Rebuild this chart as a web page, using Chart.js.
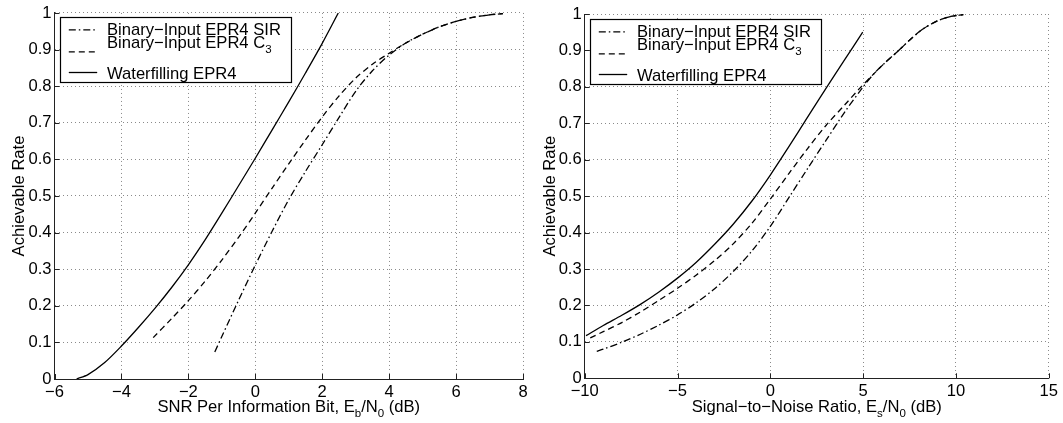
<!DOCTYPE html>
<html><head><meta charset="utf-8">
<script src="https://cdn.jsdelivr.net/npm/chart.js@4"></script>
<style>
html,body{margin:0;padding:0;background:#fff;}
#wrap{position:relative;width:1063px;height:423px;overflow:hidden;background:#fff;}
canvas{position:absolute;top:0;}
</style></head><body>
<div id="wrap">
<canvas id="c1" width="531" height="423" style="left:0px"></canvas>
<canvas id="c2" width="532" height="423" style="left:531px"></canvas>
</div>
<script>
// ---------- data ----------
const seriesLabels = ['Binary\u2212Input EPR4 SIR', 'Binary\u2212Input EPR4 C_3', 'Waterfilling EPR4'];

const yTicks = [0, 0.1, 0.2, 0.3, 0.4, 0.5, 0.6, 0.7, 0.8, 0.9, 1];
const yTickLabels = ['0', '0.1', '0.2', '0.3', '0.4', '0.5', '0.6', '0.7', '0.8', '0.9', '1'];

const leftXTicks = [-6, -4, -2, 0, 2, 4, 6, 8];
const leftXTickLabels = ['\u22126', '\u22124', '\u22122', '0', '2', '4', '6', '8'];
const rightXTicks = [-10, -5, 0, 5, 10, 15];
const rightXTickLabels = ['\u221210', '\u22125', '0', '5', '10', '15'];

const leftXTitle = 'SNR Per Information Bit, E_b/N_0 (dB)';
const rightXTitle = 'Signal\u2212to\u2212Noise Ratio, E_s/N_0 (dB)';
const yTitle = 'Achievable Rate';

// Left panel (Eb/N0)
const leftSirX = [-1.21, -1, -0.5, 0, 0.5, 1, 1.5, 2, 2.5, 3, 3.5, 4, 4.5, 5, 5.5, 6, 6.5, 7, 7.4];
const leftSirY = [0.074, 0.116, 0.215, 0.311, 0.403, 0.49, 0.567, 0.64, 0.714, 0.786, 0.842, 0.885, 0.918, 0.942, 0.962, 0.977, 0.988, 0.995, 0.998];
const leftC3X = [-3.05, -2.5, -2, -1.5, -1, -0.5, 0, 0.5, 1, 1.5, 2, 2.5, 3, 3.5, 4, 4.5, 5, 5.5, 6, 6.5, 7, 7.4];
const leftC3Y = [0.113, 0.165, 0.214, 0.267, 0.325, 0.387, 0.453, 0.521, 0.588, 0.653, 0.716, 0.773, 0.822, 0.86, 0.89, 0.918, 0.942, 0.962, 0.977, 0.988, 0.995, 0.998];
const leftWfX = [-5.34, -5, -4.5, -4, -3.5, -3, -2.5, -2, -1.5, -1, -0.5, 0, 0.5, 1, 1.5, 2, 2.48];
const leftWfY = [0, 0.012, 0.045, 0.09, 0.14, 0.193, 0.25, 0.312, 0.38, 0.453, 0.528, 0.603, 0.68, 0.757, 0.836, 0.917, 1.0];

// Right panel (Es/N0)
const rightSirX = [-9.35, -9, -8, -7, -6, -5, -4, -3, -2, -1, 0, 1, 2, 3, 4, 5, 5.6, 6.2, 6.86, 7.5, 8.2, 9, 9.7, 10.4];
const rightSirY = [0.074, 0.08, 0.099, 0.121, 0.146, 0.174, 0.207, 0.246, 0.293, 0.349, 0.417, 0.496, 0.575, 0.653, 0.73, 0.8, 0.837, 0.867, 0.897, 0.928, 0.958, 0.981, 0.993, 0.998];
const rightC3X = [-9.7, -9, -8, -7, -6, -5, -4, -3, -2, -1, 0, 1, 2, 3, 4, 4.8, 5.6, 6.2, 6.86, 7.5, 8.2, 9, 9.7, 10.4];
const rightC3Y = [0.111, 0.128, 0.153, 0.182, 0.214, 0.247, 0.283, 0.323, 0.369, 0.425, 0.492, 0.562, 0.63, 0.694, 0.75, 0.795, 0.837, 0.867, 0.897, 0.928, 0.958, 0.981, 0.993, 0.998];
const rightWfX = [-9.93, -9, -8, -7, -6, -5, -4, -3, -2, -1, 0, 1, 2, 3, 4, 4.98];
const rightWfY = [0.117, 0.145, 0.173, 0.203, 0.237, 0.275, 0.318, 0.368, 0.423, 0.486, 0.558, 0.636, 0.716, 0.796, 0.874, 0.95];

// ---------- helpers ----------
const FONT = "'Liberation Sans', Arial, Helvetica, sans-serif";
const FS = 16.6, SUBFS = 11.5, SUBDROP = 5;
const styles = [
  { dash: [7, 3, 1.5, 3] },
  { dash: [6, 4] },
  { dash: [] }
];

function pts(xs, ys) { return xs.map((x, i) => ({ x: x, y: ys[i] })); }

function parseRich(str) {
  const out = []; let buf = ''; let i = 0;
  while (i < str.length) {
    if (str[i] === '_') {
      if (buf) { out.push({ t: buf, sub: false }); buf = ''; }
      out.push({ t: str[i + 1], sub: true }); i += 2;
    } else { buf += str[i]; i++; }
  }
  if (buf) out.push({ t: buf, sub: false });
  return out;
}
function richWidth(ctx, parts) {
  let w = 0;
  for (const p of parts) { ctx.font = (p.sub ? SUBFS : FS) + 'px ' + FONT; w += ctx.measureText(p.t).width; }
  return w;
}
function drawRich(ctx, str, x, y, align) {
  const parts = parseRich(str);
  let cx = x;
  if (align === 'center') cx = x - richWidth(ctx, parts) / 2;
  ctx.textBaseline = 'alphabetic'; ctx.textAlign = 'left';
  for (const p of parts) {
    ctx.font = (p.sub ? SUBFS : FS) + 'px ' + FONT;
    ctx.fillText(p.t, cx, p.sub ? y + SUBDROP : y);
    cx += ctx.measureText(p.t).width;
  }
}

const decor = {
  id: 'decor',
  afterDraw(chart, args, opts) {
    const ctx = chart.ctx, ca = chart.chartArea;
    const xs = chart.scales.x, ys = chart.scales.y;
    ctx.save();
    ctx.strokeStyle = '#222'; ctx.lineWidth = 1; ctx.setLineDash([]);
    ctx.beginPath();
    for (const t of xs.ticks) {
      const px = Math.round(xs.getPixelForValue(t.value)) + 0.5;
      ctx.moveTo(px, ca.bottom); ctx.lineTo(px, ca.bottom - 5);
    }
    for (const t of ys.ticks) {
      const py = Math.round(ys.getPixelForValue(t.value)) + 0.5;
      ctx.moveTo(ca.left, py); ctx.lineTo(ca.left + 5, py);
    }
    ctx.stroke();
    ctx.fillStyle = '#000';
    drawRich(ctx, opts.xTitle, (ca.left + ca.right) / 2, opts.xTitleY, 'center');
    ctx.save();
    ctx.translate(opts.yTitleX, (ca.top + ca.bottom) / 2);
    ctx.rotate(-Math.PI / 2);
    ctx.font = FS + 'px ' + FONT; ctx.textAlign = 'center'; ctx.textBaseline = 'middle';
    ctx.fillText(yTitle, 0, 0);
    ctx.restore();
    const lx = Math.round(ca.left + 5.5) + 0.5, ly = Math.round(ca.top + 4.5) + 0.5;
    const lw = 231, lh = 65;
    ctx.fillStyle = '#fff'; ctx.fillRect(lx, ly, lw, lh);
    ctx.strokeStyle = '#000'; ctx.lineWidth = 1.2; ctx.strokeRect(lx, ly, lw, lh);
    const lineYs = [12.3, 34.3, 55], textYs = [17.9, 30.2, 61.9];
    chart.data.datasets.forEach((ds, i) => {
      ctx.strokeStyle = '#000'; ctx.lineWidth = 1.3; ctx.setLineDash(ds.borderDash || []);
      ctx.beginPath(); ctx.moveTo(lx + 8.3, ly + lineYs[i]); ctx.lineTo(lx + 36.7, ly + lineYs[i]); ctx.stroke();
      ctx.setLineDash([]);
      ctx.fillStyle = '#000';
      drawRich(ctx, ds.label, lx + 46.5, ly + textYs[i], 'left');
    });
    ctx.restore();
  }
};

function makeChart(id, W, area, xTicks, xTickLabels, xTitle, sets) {
  const H = 423;
  return new Chart(document.getElementById(id), {
    type: 'line',
    data: {
      datasets: sets.map((s, i) => ({
        label: seriesLabels[i],
        data: pts(s[0], s[1]),
        borderColor: '#000',
        borderWidth: 1.3,
        borderDash: styles[i].dash,
        pointRadius: 0,
        fill: false,
        tension: 0.3
      }))
    },
    options: {
      responsive: false, animation: false, devicePixelRatio: 1,
      layout: { padding: { top: area.top, right: W - area.right, left: 0, bottom: 0 } },
      plugins: {
        legend: { display: false }, tooltip: { enabled: false },
        decor: { xTitle: xTitle, xTitleY: 411.5, yTitleX: 19 }
      },
      scales: {
        x: {
          type: 'linear', min: xTicks[0], max: xTicks[xTicks.length - 1],
          afterBuildTicks: s => { s.ticks = xTicks.map(v => ({ value: v })); },
          afterFit: s => { s.height = H - area.bottom; },
          ticks: { callback: (v, i) => xTickLabels[i], font: { size: FS, family: FONT }, color: '#000', padding: 3, maxRotation: 0, autoSkip: false },
          grid: { color: '#8a8a8a', lineWidth: 1, drawTicks: false },
          border: { display: true, color: '#222', width: 1, dash: [1, 3] }
        },
        y: {
          type: 'linear', min: 0, max: 1,
          afterBuildTicks: s => { s.ticks = yTicks.map(v => ({ value: v })); },
          afterFit: s => { s.width = area.left; },
          ticks: { callback: (v, i) => yTickLabels[i], font: { size: FS, family: FONT }, color: '#000', padding: 3, autoSkip: false },
          grid: { color: '#8a8a8a', lineWidth: 1, drawTicks: false },
          border: { display: true, color: '#222', width: 1, dash: [1, 3] }
        }
      }
    },
    plugins: [decor]
  });
}

makeChart('c1', 531, { left: 54.5, right: 523, top: 10.5, bottom: 379 }, leftXTicks, leftXTickLabels, leftXTitle,
  [[leftSirX, leftSirY], [leftC3X, leftC3Y], [leftWfX, leftWfY]]);
makeChart('c2', 532, { left: 53.7, right: 517.7, top: 14, bottom: 378.3 }, rightXTicks, rightXTickLabels, rightXTitle,
  [[rightSirX, rightSirY], [rightC3X, rightC3Y], [rightWfX, rightWfY]]);
</script>
</body></html>
